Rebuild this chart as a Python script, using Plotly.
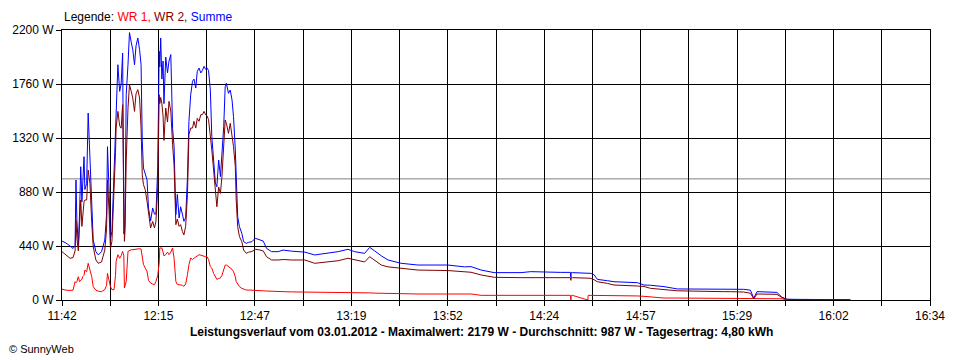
import plotly.graph_objects as go

# time in minutes after 11:42
t_min = [0.0, 1.3, 2.7, 3.7, 4.4, 4.7, 5.0, 5.5, 5.9, 6.3, 6.7, 7.0, 7.4, 7.7, 8.3, 8.8, 9.4, 10.0, 10.5, 11.4,
         12.2, 13.3, 14.4, 15.0, 15.3, 15.8, 16.3, 16.8, 17.5, 18.0, 18.2, 18.8, 19.4, 19.9, 20.4, 20.6, 20.8, 21.0,
         21.2, 21.6, 22.2, 22.7, 23.3, 23.8, 24.4, 24.9, 25.5, 26.1, 26.6, 27.0, 27.4, 28.0, 28.6, 29.1, 29.8, 30.5,
         31.1, 31.6, 32.2, 32.7, 32.9, 33.2, 33.6, 34.0, 34.3, 34.9, 35.5, 36.0, 36.6, 37.2, 37.7, 38.3, 38.8, 39.4,
         39.9, 40.5, 41.0, 41.6, 42.2, 42.7, 43.3, 43.9, 44.4, 45.0, 45.5, 46.1, 46.7, 47.2, 47.8, 48.3, 48.8, 49.3,
         49.9, 50.4, 51.0, 51.6, 52.1, 52.7, 53.3, 53.8, 54.4, 54.9, 55.3, 56.0, 56.6, 57.2, 57.7, 58.3, 58.6, 59.1,
         59.7, 60.5, 61.1, 62.0, 62.8, 63.9, 65.0, 66.1, 67.7, 68.8, 70.5, 72.7, 74.4, 77.2, 81.7, 85.0, 88.4, 92.9,
         96.2, 98.4, 101.8, 103.5, 105.2, 107.4, 109.7, 114.1, 119.7, 129.8, 135.4, 137.6, 141.0, 145.4, 154.4, 157.7,
         167.8, 171.0, 171.2, 171.3, 171.7, 176.9, 177.0, 177.9, 179.0, 180.1, 183.5, 185.7, 193.6, 195.8, 198.0,
         201.4, 202.5, 207.0, 215.9, 222.6, 224.9, 229.3, 231.6, 232.7, 233.8, 236.0, 240.5, 242.2, 243.9, 248.4,
         258.4, 265.2]

summe = [480, 465, 440, 420, 440, 978, 650, 450, 700, 1086, 800, 978, 1168, 900, 950, 1523, 1180, 730, 490, 394,
         367, 394, 489, 700, 1249, 920, 500, 560, 1000, 1400, 1591, 1917, 1700, 1760, 2012, 1500, 540, 560,
         640, 1673, 1917, 2179, 2100, 2040, 1917, 2070, 2135, 2040, 1917, 1296, 1076, 1021, 980, 750, 644, 750,
         700, 700, 1076, 2026, 1900, 2135, 1800, 1947, 1600, 1980, 1850, 1947, 2000, 1400, 1250, 695, 860, 668,
         760, 700, 641, 670, 995, 1456, 1673, 1782, 1800, 1727, 1863, 1890, 1850, 1870, 1904, 1880, 1890, 1870,
         1711, 1331, 1141, 953, 923, 1141, 1005, 1180, 1412, 1738, 1766, 1684, 1711, 1630, 1494, 1222, 953, 679,
         597, 543, 475, 462, 470, 475, 503, 494, 480, 421, 394, 394, 407, 398, 390, 367, 380, 394,
         413, 394, 380, 429, 400, 360, 326, 299, 285, 285, 270, 272, 244, 223, 223, 231,
         225, 225, 185, 225, 223, 220, 220, 217, 205, 168, 157, 149, 141, 122, 120,
         115, 109, 90, 87, 85, 90, 87, 80, 14, 68, 65, 62, 22, 6, 5,
         3, 2]

wr2 = [394, 370, 340, 345, 400, 652, 500, 400, 560, 815, 600, 700, 800, 815, 815, 1059, 950, 630, 434, 326,
       299, 310, 407, 580, 978, 740, 420, 478, 858, 1200, 1401, 1537, 1420, 1400, 1591, 1200, 478, 478,
       560, 1133, 1564, 1754, 1700, 1646, 1537, 1680, 1714, 1646, 1401, 1021, 940, 900, 804, 700, 587, 640,
       587, 640, 913, 1673, 1600, 1650, 1600, 1500, 1300, 1564, 1450, 1619, 1540, 1266, 1100, 614, 660, 600,
       614, 559, 530, 600, 858, 1347, 1401, 1401, 1456, 1401, 1480, 1456, 1510, 1510, 1537, 1510, 1500, 1470,
       1358, 1222, 1059, 869, 760, 920, 869, 1005, 1222, 1467, 1440, 1358, 1440, 1330, 1249, 1086, 815, 597,
       516, 475, 407, 380, 390, 395, 413, 410, 400, 353, 326, 326, 330, 326, 326, 299, 310, 320,
       340, 326, 310, 353, 326, 285, 270, 258, 244, 240, 230, 226, 204, 185, 182, 182,
       182, 182, 160, 182, 182, 180, 180, 177, 165, 149, 135, 122, 114, 110, 95,
       90, 85, 75, 68, 68, 68, 65, 55, 10, 49, 49, 46, 20, 5, 3,
       2, 1]

wr1 = [89, 80, 78, 80, 149, 140, 150, 190, 150, 160, 170, 190, 200, 244, 230, 299, 240, 190, 109, 80,
       72, 68, 85, 120, 217, 160, 110, 84, 84, 200, 315, 369, 340, 360, 396, 380, 360, 98,
       120, 152, 396, 405, 410, 410, 412, 415, 418, 418, 415, 330, 290, 260, 234, 160, 139, 130,
       125, 150, 200, 300, 424, 424, 424, 390, 360, 370, 390, 370, 390, 424, 340, 152, 125, 125,
       125, 120, 111, 130, 206, 288, 342, 330, 340, 348, 360, 369, 365, 360, 360, 353, 353, 330,
       272, 260, 217, 190, 168, 175, 180, 200, 244, 285, 285, 272, 258, 250, 231, 190, 150, 125,
       109, 95, 87, 81, 81, 81, 78, 75, 75, 73, 73, 70, 68, 66, 65, 65, 66, 66,
       64, 60, 60, 58, 56, 54, 52, 50, 49, 49, 49, 49, 38, 38, 38, 38,
       38, 38, 0, 38, 38, 0, 38, 38, 33, 33, 33, 33, 33, 30, 25,
       16, 16, 16, 16, 16, 16, 16, 16, 10, 16, 16, 16, 10, 0, 0,
       0, 0]

average_w = 987
y_ticks = [0, 440, 880, 1320, 1760, 2200]
y_tick_labels = ["0 W", "440 W", "880 W", "1320 W", "1760 W", "2200 W"]
x_tick_labels = ["11:42", "12:15", "12:47", "13:19", "13:52", "14:24", "14:57", "15:29", "16:02", "16:34"]
x_span = 292  # minutes from 11:42 to 16:34

title_text = ("Leistungsverlauf vom 03.01.2012 - Maximalwert: 2179 W - "
              "Durchschnitt: 987 W - Tagesertrag: 4,80 kWh")

FONT = "Liberation Sans, Arial, sans-serif"

fig = go.Figure()
fig.add_trace(go.Scatter(x=t_min, y=wr1, mode="lines", name="WR 1",
                         line=dict(color="#FF0000", width=1), hoverinfo="skip"))
fig.add_trace(go.Scatter(x=t_min, y=summe, mode="lines", name="Summe",
                         line=dict(color="#0000FF", width=1), hoverinfo="skip"))
fig.add_trace(go.Scatter(x=t_min, y=wr2, mode="lines", name="WR 2",
                         line=dict(color="#800000", width=1), hoverinfo="skip"))

fig.add_shape(type="line", xref="x", yref="y", x0=0, x1=x_span, y0=average_w, y1=average_w,
              line=dict(color="#808080", width=1), layer="below")

n_minor = 2 * (len(x_tick_labels) - 1)
x_tickvals = [i * x_span / n_minor for i in range(n_minor + 1)]
x_ticktext = [x_tick_labels[i // 2] if i % 2 == 0 else "" for i in range(n_minor + 1)]

fig.update_layout(
    width=960, height=360,
    margin=dict(l=60, r=30, t=30, b=60),
    paper_bgcolor="white", plot_bgcolor="white",
    showlegend=False,
    font=dict(family=FONT, size=12, color="black"),
    xaxis=dict(range=[0, x_span], tickvals=x_tickvals, ticktext=x_ticktext,
               showgrid=True, gridcolor="black", gridwidth=1, zeroline=False,
               showline=True, linecolor="black", linewidth=1, mirror=True,
               ticks="outside", ticklen=5, tickcolor="black", tickwidth=1,
               tickfont=dict(family=FONT, size=12, color="black")),
    yaxis=dict(range=[0, 2200], tickvals=y_ticks, ticktext=y_tick_labels,
               showgrid=True, gridcolor="black", gridwidth=1, zeroline=False,
               showline=True, linecolor="black", linewidth=1, mirror=True,
               ticks="outside", ticklen=5, tickcolor="black", tickwidth=1,
               tickfont=dict(family=FONT, size=12, color="black")),
    annotations=[
        dict(xref="paper", yref="paper", x=0.0, y=(300 - 17) / 270, xanchor="left", yanchor="middle",
             showarrow=False, font=dict(family=FONT, size=12, color="black"),
             text="Legende: <span style='color:#FF0000'>WR 1, </span>"
                  "<span style='color:#800000'>WR 2, </span>"
                  "<span style='color:#0000FF'>Summe</span>"),
        dict(xref="paper", yref="paper", x=(480 - 60) / 870, y=(300 - 332) / 270,
             xanchor="center", yanchor="middle", showarrow=False,
             font=dict(family=FONT, size=12, color="black"), text="<b>" + title_text + "</b>"),
        dict(xref="paper", yref="paper", x=(5 - 60) / 870, y=(300 - 349) / 270,
             xanchor="left", yanchor="middle", showarrow=False,
             font=dict(family=FONT, size=11, color="black"), text="© SunnyWeb"),
    ],
)

fig.write_html("out.html", config={"displayModeBar": False},
               post_script="document.body.style.margin='0';")
